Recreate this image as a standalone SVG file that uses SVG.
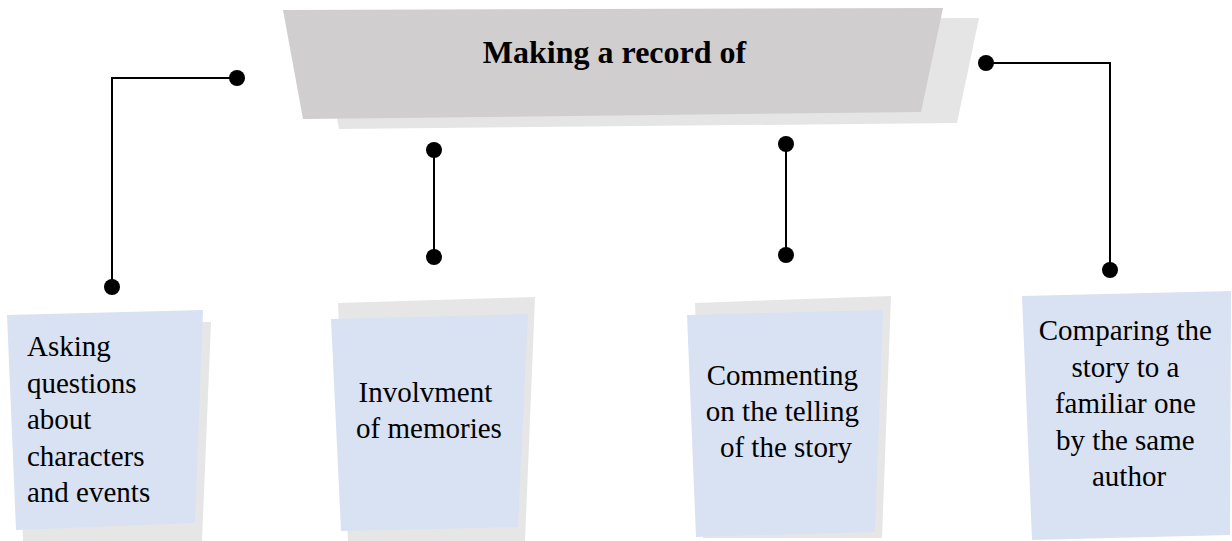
<svg xmlns="http://www.w3.org/2000/svg" width="1232" height="541" viewBox="0 0 1232 541">
  <style>
    .hdr-back { fill: #E6E5E5; }
    .hdr-front { fill: #D0CECE; }
    .card-back { fill: #E6E6E6; }
    .card { fill: #D9E2F3; }
    .title { font-family: "Liberation Serif", "Times New Roman", serif; font-size: 32px; font-weight: bold; fill: #000; text-anchor: middle; }
    .label { font-family: "Liberation Serif", "Times New Roman", serif; font-size: 29px; fill: #000; }
    .mid { text-anchor: middle; }
    .wire { fill: none; stroke: #000; stroke-width: 2; }
    .pin { fill: #000; }
  </style>

  <!-- header banner -->
  <g id="header">
    <polygon class="hdr-back" points="319,20 979,18 957,123 339,129"/>
    <polygon class="hdr-front" points="283,10 943,8 921,112 303,119"/>
    <text class="title" x="614.5" y="63">Making a record of</text>
  </g>

  <!-- card: asking questions -->
  <g id="node-asking">
    <polygon class="card-back" points="15,322 211,322 202,541 23,541"/>
    <polygon class="card" points="7,315 203,310 195,523 16,530"/>
    <text class="label" x="27" y="356">
      <tspan x="27" y="356">Asking</tspan>
      <tspan x="27" y="392.5">questions</tspan>
      <tspan x="27" y="429">about</tspan>
      <tspan x="27" y="465.5">characters</tspan>
      <tspan x="27" y="502">and events</tspan>
    </text>
  </g>

  <!-- card: memories -->
  <g id="node-memories">
    <polygon class="card-back" points="338,303 535,297 525,541 348,541"/>
    <polygon class="card" points="331,319 528,314 518,527 341,531"/>
    <text class="label mid" x="429" y="402">
      <tspan x="429" y="402">Involvment</tspan>
      <tspan x="429" y="438">of memories</tspan>
    </text>
  </g>

  <!-- card: commenting -->
  <g id="node-commenting">
    <polygon class="card-back" points="695,303 891,296 882,538 703,538"/>
    <polygon class="card" points="687,315 883,310 875,532 696,537"/>
    <text class="label mid" x="786" y="385">
      <tspan x="786" y="385">Commenting</tspan>
      <tspan x="786" y="421">on the telling</tspan>
      <tspan x="786" y="457">of the story</tspan>
    </text>
  </g>

  <!-- card: comparing -->
  <g id="node-comparing">
    <polygon class="card" points="1022,296 1231,291 1230,535 1032,540"/>
    <text class="label mid" x="1129" y="340">
      <tspan x="1129" y="340">Comparing the</tspan>
      <tspan x="1129" y="376.5">story to a</tspan>
      <tspan x="1129" y="413">familiar one</tspan>
      <tspan x="1129" y="449.5">by the same</tspan>
      <tspan x="1129" y="486">author</tspan>
    </text>
  </g>

  <!-- connectors with round end pins -->
  <g id="connectors">
    <polyline class="wire" points="237,78 112,78 112,287"/>
    <circle class="pin" cx="237" cy="78" r="8"/>
    <circle class="pin" cx="112" cy="287" r="8"/>

    <line class="wire" x1="434" y1="150" x2="434" y2="257"/>
    <circle class="pin" cx="434" cy="150" r="8"/>
    <circle class="pin" cx="434" cy="257" r="8"/>

    <line class="wire" x1="786" y1="144" x2="786" y2="255"/>
    <circle class="pin" cx="786" cy="144" r="8"/>
    <circle class="pin" cx="786" cy="255" r="8"/>

    <polyline class="wire" points="986,63 1110,63 1110,270"/>
    <circle class="pin" cx="986" cy="63" r="8"/>
    <circle class="pin" cx="1110" cy="270" r="8"/>
  </g>
</svg>
